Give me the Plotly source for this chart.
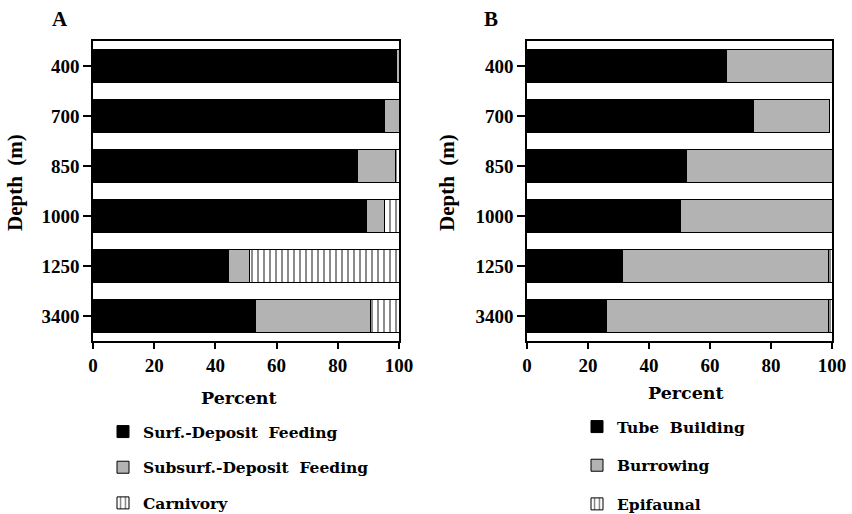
import plotly.graph_objects as go

# Depth stations (m), top to bottom
depths = ["400", "700", "850", "1000", "1250", "3400"]

# Panel A: feeding guilds (% of individuals)
surf_deposit = [99.3, 95.4, 86.3, 89.3, 44.2, 53.2]
subsurf_deposit = [0.7, 4.6, 12.6, 5.8, 6.8, 37.6]
carnivory = [0.0, 0.0, 1.1, 4.9, 49.0, 9.2]

# Panel B: life habits (% of individuals)
tube_building = [65.3, 74.2, 52.3, 50.2, 31.2, 26.0]
burrowing = [34.7, 24.9, 47.7, 49.8, 67.7, 72.9]
epifaunal = [0.0, 0.0, 0.0, 0.0, 1.1, 1.1]

BLACK = "#000000"
GRAY = "#b3b3b3"
SERIF = "Liberation Serif"
WIDE_SERIF = "DejaVu Serif"

fig = go.Figure()


def add_bar(name, values, xaxis, yaxis, legend, color, pattern=None):
    marker = dict(color=color, line=dict(color="black", width=1))
    if pattern:
        marker["pattern"] = dict(shape="|", size=6, solidity=0.3,
                                 fgcolor="black", bgcolor="white")
    fig.add_trace(go.Bar(
        name=name, x=values, y=depths, orientation="h",
        xaxis=xaxis, yaxis=yaxis, legend=legend, legendgroup=name,
        marker=marker,
    ))


add_bar("Surf.-Deposit  Feeding", surf_deposit, "x", "y", "legend", BLACK)
add_bar("Subsurf.-Deposit  Feeding", subsurf_deposit, "x", "y", "legend", GRAY)
add_bar("Carnivory", carnivory, "x", "y", "legend", "white", pattern=True)

add_bar("Tube  Building", tube_building, "x2", "y2", "legend2", BLACK)
add_bar("Burrowing", burrowing, "x2", "y2", "legend2", GRAY)
add_bar("Epifaunal", epifaunal, "x2", "y2", "legend2", "white", pattern=True)

y_top = 1 - 41 / 514
y_bot = 1 - 341 / 514

xaxis_common = dict(
    range=[0, 100], tickvals=[0, 20, 40, 60, 80, 100],
    showline=True, linecolor="black", linewidth=1.5, mirror=True,
    ticks="outside", ticklen=6, tickcolor="black", tickwidth=1.5,
    showgrid=False, zeroline=False, automargin=False,
    tickfont=dict(family=SERIF, size=19, color="black", weight="bold"),
)
yaxis_common = dict(
    type="category", categoryorder="array", categoryarray=depths,
    autorange="reversed",
    showline=True, linecolor="black", linewidth=1.5, mirror=True,
    ticks="outside", ticklen=8, tickcolor="black", tickwidth=1.5,
    showgrid=False, zeroline=False, automargin=False,
    tickfont=dict(family=SERIF, size=19, color="black", weight="bold"),
    domain=[y_bot, y_top],
)

legend_common = dict(
    font=dict(family=WIDE_SERIF, size=15.5, color="black", weight="bold"),
    traceorder="grouped", bgcolor="rgba(0,0,0,0)",
    xanchor="left", yanchor="top", itemclick=False, itemdoubleclick=False,
)

fig.update_layout(
    width=852, height=514,
    margin=dict(l=0, r=0, t=0, b=0, autoexpand=False),
    paper_bgcolor="white", plot_bgcolor="white",
    barmode="stack", bargap=0.34,
    xaxis=dict(domain=[93 / 852, 399 / 852], anchor="y", **xaxis_common),
    yaxis=dict(anchor="x", **yaxis_common),
    xaxis2=dict(domain=[527 / 852, 832 / 852], anchor="y2", **xaxis_common),
    yaxis2=dict(anchor="x2", **yaxis_common),
    legend=dict(x=103 / 852, y=1 - 415 / 514, tracegroupgap=12.5,
                **legend_common),
    legend2=dict(x=577 / 852, y=1 - 410 / 514, tracegroupgap=15.5,
                 **legend_common),
    showlegend=True,
)

title_font = dict(family=SERIF, size=21, color="black", weight="bold")
axis_title_font = dict(family=SERIF, size=21, color="black", weight="bold")
percent_font = dict(family=WIDE_SERIF, size=17.5, color="black", weight="bold")

annotations = [
    dict(text="A", x=60 / 852, y=1 - 19 / 514, font=title_font),
    dict(text="B", x=491 / 852, y=1 - 19 / 514, font=title_font),
    dict(text="Depth  (m)", x=15 / 852, y=1 - 183 / 514, textangle=-90,
         font=axis_title_font),
    dict(text="Depth  (m)", x=447 / 852, y=1 - 183 / 514, textangle=-90,
         font=axis_title_font),
    dict(text="Percent", x=239 / 852, y=1 - 398 / 514, font=percent_font),
    dict(text="Percent", x=686 / 852, y=1 - 393 / 514, font=percent_font),
]
for a in annotations:
    fig.add_annotation(xref="paper", yref="paper", showarrow=False,
                       xanchor="center", yanchor="middle", **a)

fig.write_html("out.html")
